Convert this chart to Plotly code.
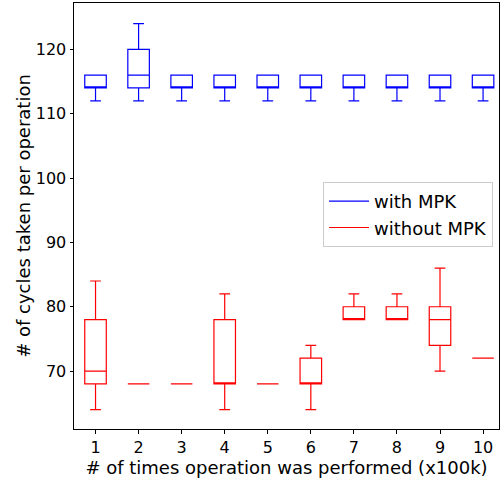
import plotly.graph_objects as go

positions = [1, 2, 3, 4, 5, 6, 7, 8, 9, 10]

# with MPK
with_min = [112, 112, 112, 112, 112, 112, 112, 112, 112, 112]
with_q1 = [114, 114, 114, 114, 114, 114, 114, 114, 114, 114]
with_med = [114, 116, 114, 114, 114, 114, 114, 114, 114, 114]
with_q3 = [116, 120, 116, 116, 116, 116, 116, 116, 116, 116]
with_max = [116, 124, 116, 116, 116, 116, 116, 116, 116, 116]

# without MPK
without_min = [64, 68, 68, 64, 68, 64, 78, 78, 70, 72]
without_q1 = [68, 68, 68, 68, 68, 68, 78, 78, 74, 72]
without_med = [70, 68, 68, 68, 68, 68, 78, 78, 78, 72]
without_q3 = [78, 68, 68, 78, 68, 72, 80, 80, 80, 72]
without_max = [84, 68, 68, 82, 68, 74, 82, 82, 86, 72]

y_ticks = [70, 80, 90, 100, 110, 120]
font = "DejaVu Sans"

fig = go.Figure()

def add_box(name, color, lo, q1, med, q3, hi):
    fig.add_trace(go.Box(
        x=positions, q1=q1, median=med, q3=q3, lowerfence=lo, upperfence=hi,
        width=0.5, whiskerwidth=0.5, boxpoints=False,
        fillcolor="rgba(0,0,0,0)", line=dict(color=color, width=1.2),
        showlegend=False, hoverinfo="skip", name=name,
    ))
    fig.add_trace(go.Scatter(
        x=[None], y=[None], mode="lines", name=name,
        line=dict(color=color, width=1.2),
    ))

add_box("with MPK", "blue", with_min, with_q1, with_med, with_q3, with_max)
add_box("without MPK", "red", without_min, without_q1, without_med, without_q3, without_max)

fig.update_layout(
    width=501, height=478,
    margin=dict(l=74, r=2, t=3, b=49),
    paper_bgcolor="white", plot_bgcolor="white",
    boxmode="overlay",
    font=dict(family=font, size=15.4, color="black"),
    showlegend=True,
    legend=dict(
        x=0.986, y=0.58, xanchor="right", yanchor="top",
        bordercolor="#cccccc", borderwidth=1, bgcolor="rgba(255,255,255,0.8)",
        font=dict(family=font, size=18, color="black"), itemwidth=40,
    ),
    xaxis=dict(
        range=[0.5, 10.37], tickmode="array", tickvals=positions,
        ticktext=[str(p) for p in positions],
        ticks="outside", ticklen=3.5, tickcolor="black",
        tickfont=dict(family=font, size=16, color="black"),
        showline=True, linecolor="black", linewidth=1, mirror=True,
        showgrid=False, zeroline=False, automargin=False,
        title=dict(text="# of times operation was performed (x100k)", standoff=0),
    ),
    yaxis=dict(
        range=[61, 127.2], tickmode="array", tickvals=y_ticks,
        ticks="outside", ticklen=3.5, tickcolor="black",
        tickfont=dict(family=font, size=16, color="black"),
        showline=True, linecolor="black", linewidth=1, mirror=True,
        showgrid=False, zeroline=False, automargin=False,
        title=dict(text="# of cycles taken per operation", standoff=0),
    ),
)

fig.write_html("out.html", config={"displayModeBar": False},
               post_script="document.body.style.margin='0';")
